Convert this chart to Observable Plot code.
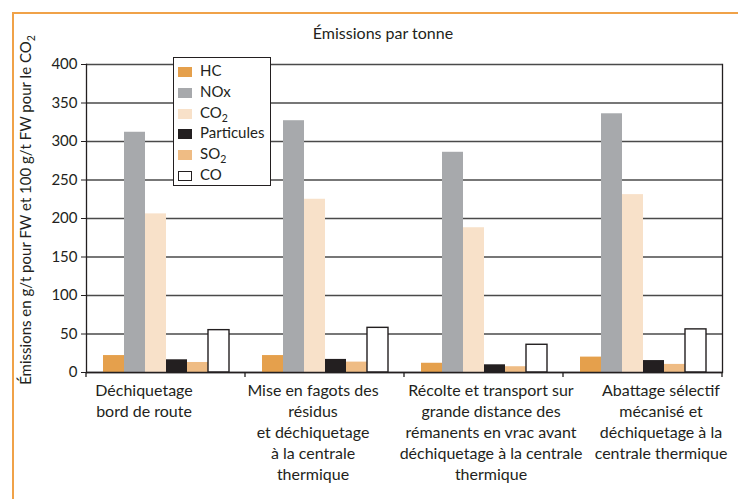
<!DOCTYPE html>
<html><head><meta charset="utf-8">
<script src="https://cdn.jsdelivr.net/npm/d3@7"></script>
<script src="https://cdn.jsdelivr.net/npm/@observablehq/plot@0.6"></script>
<style>
body{margin:0;background:#fff;}
#wrap{position:relative;width:738px;height:499px;overflow:hidden;font-family:Lato,"Open Sans",sans-serif;color:#231f20;}
#wrap svg{position:absolute;left:0;top:0;}
#border{position:absolute;left:12px;top:12px;width:760px;height:520px;border-left:2px solid #f0a248;border-top:2px solid #f0a248;}
#title{position:absolute;top:23px;left:283px;width:200px;text-align:center;font-size:16px;}
#ylab{position:absolute;left:25px;top:210px;width:420px;margin-left:-210px;margin-top:-10px;height:20px;line-height:20px;text-align:center;font-size:15px;transform:rotate(-90deg);white-space:nowrap;}
#legend{position:absolute;left:173px;top:57px;width:96px;height:127px;border:1px solid #231f20;background:#fff;font-size:15px;}
#legend .row{position:absolute;left:4px;height:21px;line-height:21px;white-space:nowrap;}
#legend .sw{display:inline-block;width:14px;height:10px;margin-right:8px;vertical-align:-1px;box-sizing:border-box;}
sub{font-size:70%;vertical-align:-4px;line-height:0;}
</style></head>
<body>
<div id="wrap">
  <div id="border"></div>
  <div id="chart"></div>
  <div id="title">Émissions par tonne</div>
  <div id="ylab">Émissions en g/t pour FW et 100 g/t FW pour le CO<sub>2</sub></div>
  <div id="legend"></div>
</div>
<script>
// ---- data ----
const categories = [
  "Déchiquetage\nbord de route",
  "Mise en fagots des\nrésidus\net déchiquetage\nà la centrale\nthermique",
  "Récolte et transport sur\ngrande distance des\nrémanents en vrac avant\ndéchiquetage à la centrale\nthermique",
  "Abattage sélectif\nmécanisé et\ndéchiquetage à la\ncentrale thermique"
];
const pollutants = ["HC", "NOx", "CO2", "Particules", "SO2", "CO"];
const legendLabels = ["HC", "NOx", "CO<sub>2</sub>", "Particules", "SO<sub>2</sub>", "CO"];
const HC = [22, 22, 12, 20];
const NOx = [312, 327, 286, 336];
const CO2 = [206, 225, 188, 231];
const Particules = [16.5, 17, 10, 15.5];
const SO2 = [13, 13.5, 7.5, 10.5];
const CO = [55, 58, 36, 56];
const yTicks = [0, 50, 100, 150, 200, 250, 300, 350, 400];
const colors = ["#e5a04c", "#a7a9ac", "#f8e1c9", "#231f20", "#efbc84", "#ffffff"];

const series = {HC, NOx, CO2, Particules, SO2, CO};
const rows = [];
categories.forEach((c, i) => pollutants.forEach(p => rows.push({cat: c, pollutant: p, value: series[p][i]})));

const labelShift = [-22, -12, 7, 18];

const chart = Plot.plot({
  width: 738, height: 499,
  marginTop: 64, marginLeft: 85, marginRight: 15, marginBottom: 127,
  style: {fontFamily: "Lato, 'Open Sans', sans-serif", fontSize: "15px", color: "#231f20", background: "transparent"},
  fx: {domain: categories, padding: 0, axis: null, label: null},
  x: {domain: pollutants, paddingInner: 0, paddingOuter: 0.75, axis: null},
  y: {domain: [0, 400], ticks: yTicks, axis: null},
  color: {domain: pollutants, range: colors},
  marks: [
    Plot.gridY(yTicks, {stroke: "#4a4a4a", strokeOpacity: 1, strokeWidth: 1.3}),
    Plot.barY(rows, {fx: "cat", x: "pollutant", y: "value", fill: "pollutant"}),
    Plot.barY(rows.filter(d => d.pollutant === "CO"), {fx: "cat", x: "pollutant", y: "value", fill: "#fff", stroke: "#231f20", strokeWidth: 1.4}),
    Plot.ruleY([0], {stroke: "#231f20", strokeWidth: 1.3}),
    Plot.axisY(yTicks, {tickSize: 5, tickPadding: 4, fontSize: 15, label: null, stroke: "#231f20", fill: "#231f20"}),
    Plot.frame({anchor: "left", facetAnchor: "left", stroke: "#231f20", strokeWidth: 1.3}),
    Plot.frame({anchor: "right", facetAnchor: "right", stroke: "#231f20", strokeWidth: 1.3}),
    ...categories.map((c, i) => Plot.text([c], {
      fx: d => d, text: d => d, frameAnchor: "bottom", lineAnchor: "top",
      dy: 9, dx: labelShift[i], lineHeight: 1.31, fontSize: 16, fill: "#231f20"
    }))
  ]
});
document.getElementById("chart").appendChild(chart);

// boundary ticks on the category axis, from the fx scale
const fxS = chart.scale("fx");
const yS = chart.scale("y");
const y0 = yS.apply(0);
const edges = categories.map(c => fxS.apply(c)).concat([fxS.apply(categories[categories.length - 1]) + fxS.bandwidth]);
d3.select(chart).append("g").attr("stroke", "#231f20").attr("stroke-width", 1.3)
  .selectAll("line").data(edges).join("line")
  .attr("x1", d => d).attr("x2", d => d).attr("y1", y0).attr("y2", y0 + 5);

// legend
const lg = d3.select("#legend");
pollutants.forEach((p, i) => {
  const r = lg.append("div").attr("class", "row").style("top", (2 + i * 20.8) + "px");
  r.append("span").attr("class", "sw")
    .style("background", colors[i])
    .style("border", p === "CO" ? "1px solid #231f20" : "none");
  r.append("span").html(legendLabels[i]);
});
</script>
</body></html>
